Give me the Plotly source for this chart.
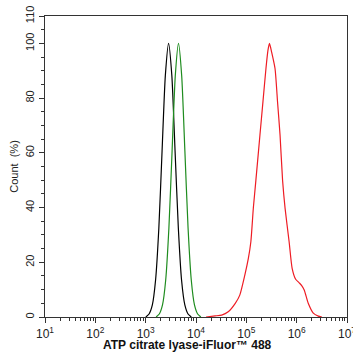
import plotly.graph_objects as go

# Fluorescence intensity (linear units) and Count (%)
black_x = [1007, 1169, 1358, 1574, 1828, 2118, 2460, 2851, 3311, 3837, 4457, 5164, 5998, 6950, 8072]
black_y = [0.0, 1.1, 4.4, 13.5, 32.5, 60.7, 88.2, 100, 88.2, 60.7, 32.5, 13.5, 4.4, 1.1, 0.0]

green_x = [1612, 1866, 2160, 2500, 2894, 3350, 3877, 4487, 5194, 6012, 6959, 8054, 9322, 10790, 12490]
green_y = [0.0, 1.1, 4.4, 13.5, 32.5, 60.7, 88.2, 100, 88.2, 60.7, 32.5, 13.5, 4.4, 1.1, 0.0]

red_x = [15849, 23988, 32359, 43652, 60256, 74131, 93325, 109648, 123027, 138038,
         154882, 186209, 213796, 245471, 269153, 288403, 316228, 371535, 416869,
         467735, 524807, 588844, 707946, 812831, 954993, 1122018, 1258925,
         1412538, 1698244, 2137962, 2691535, 3162278]
red_y = [0.0, 0.4, 0.7, 1.9, 5.0, 8.0, 15.3, 21.4, 27.5, 40.0,
         50.0, 66.4, 78.6, 90.8, 97.5, 100, 97.0, 90.8, 78.6,
         66.4, 50.0, 39.7, 27.5, 17.8, 13.8, 12.5, 11.5,
         9.9, 5.0, 1.4, 0.3, 0.0]

x_tickvals = [1e1, 1e2, 1e3, 1e4, 1e5, 1e6, 1e7]
x_ticktext = ["10<sup>1</sup>", "10<sup>2</sup>", "10<sup>3</sup>", "10<sup>4</sup>",
              "10<sup>5</sup>", "10<sup>6</sup>", "10<sup>7</sup>"]
y_tickvals = [0, 20, 40, 60, 80, 100, 110]
x_minor = [m * 10 ** e for e in range(1, 7) for m in range(2, 10)]
y_minor = list(range(0, 111, 5))

fig = go.Figure()
for xs, ys, col in [(black_x, black_y, "#000000"), (green_x, green_y, "#1f8c1f"), (red_x, red_y, "#ee1c24")]:
    fig.add_trace(go.Scatter(x=xs, y=ys, mode="lines", line=dict(color=col, width=1.2, shape="spline", smoothing=0.6),
                             showlegend=False, hoverinfo="skip"))

font_family = "Liberation Sans, Arial, sans-serif"
fig.update_layout(
    width=353, height=354,
    margin=dict(l=45, r=6, t=16, b=37, autoexpand=False),
    plot_bgcolor="white", paper_bgcolor="white",
    font=dict(family=font_family, size=11, color="#222"),
    xaxis=dict(type="log", range=[1, 7], tickmode="array", tickvals=x_tickvals, ticktext=x_ticktext,
               showline=True, linecolor="#333", linewidth=1.2, mirror=True, ticks="outside", ticklen=5,
               tickcolor="#333", showgrid=False, zeroline=False, ticklabeloverflow="allow", automargin=False,
               minor=dict(tickmode="array", tickvals=x_minor, ticks="outside", ticklen=2.5, tickcolor="#333"),
               tickfont=dict(size=12)),
    yaxis=dict(range=[0, 110], tickmode="array", tickvals=y_tickvals, tickangle=-90,
               showline=True, linecolor="#333", linewidth=1.2, mirror=True, ticks="outside", ticklen=5,
               tickcolor="#333", showgrid=False, zeroline=False, automargin=False,
               minor=dict(tickmode="array", tickvals=y_minor, ticks="outside", ticklen=2.5, tickcolor="#333"),
               title=dict(text="Count  (%)", standoff=3, font=dict(size=11)),
               tickfont=dict(size=11)),
    annotations=[dict(text="<b>ATP citrate lyase-iFluor\u2122 488</b>", xref="paper", yref="paper",
                      x=0.472, y=0, yshift=-37, xanchor="center", yanchor="bottom", showarrow=False,
                      font=dict(size=12, color="#111", family=font_family))],
)

fig.write_html("out.html", config={"displayModeBar": False, "staticPlot": True},
               post_script="document.body.style.margin='0';document.body.style.overflow='hidden';")
